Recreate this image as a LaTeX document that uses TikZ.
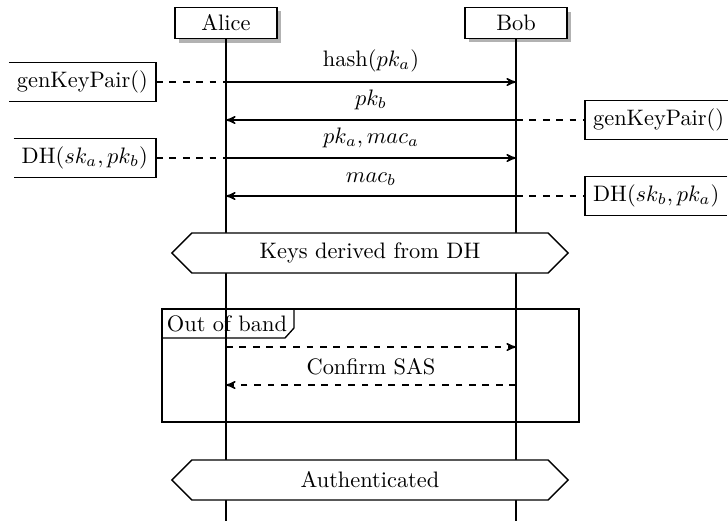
\documentclass[tikz,border=0pt]{standalone}
\usepackage{amsmath,amssymb}
\usepackage{tikz}
\usetikzlibrary{arrows,positioning,shapes.symbols,shadows}

\begin{document}
\begin{tikzpicture}[x=0.0157cm, y=-0.0157cm, >=stealth', semithick]
    \useasboundingbox (0,0) rectangle (728,521);

    % Define lifelines
    \node [rectangle, draw=black, fill=white, minimum width=1.6cm, drop shadow={fill=gray!60, opacity=1, shadow xshift=1.8pt, shadow yshift=-1.8pt}] (alice) at (226,23) {Alice};
    \node [rectangle, draw=black, fill=white, minimum width=1.6cm, drop shadow={fill=gray!60, opacity=1, shadow xshift=1.8pt, shadow yshift=-1.8pt}] (bob) at (516,23) {Bob};
    \coordinate (alice end) at (226,521);
    \coordinate (bob end) at (516,521);
    \draw[thick] (alice.south) -- (alice end);
    \draw[thick] (bob.south) -- (bob end);

    % Define points on the lifelines
    \coordinate (a1) at (226,82);  \coordinate (b1) at (516,82);
    \coordinate (a2) at (226,120); \coordinate (b2) at (516,120);
    \coordinate (a3) at (226,158); \coordinate (b3) at (516,158);
    \coordinate (a4) at (226,196); \coordinate (b4) at (516,196);
    \coordinate (a5) at (226,347); \coordinate (b5) at (516,347);
    \coordinate (a6) at (226,385); \coordinate (b6) at (516,385);

    % Define local calls
    \node [rectangle, anchor=east] (kpa) at (156,82) {genKeyPair()};
    \node [rectangle, anchor=west] (kpb) at (585,120) {genKeyPair()};
    \node [rectangle, anchor=east] (dha) at (156,158) {DH$(sk_a, pk_b)$};
    \node [rectangle, anchor=west] (dhb) at (585,196) {DH$(sk_b, pk_a)$};
    \draw (kpa.north west) -- (kpa.north east) -- (kpa.south east) -- (kpa.south west);
    \draw (dha.north west) -- (dha.north east) -- (dha.south east) -- (dha.south west);
    \draw (kpb.north east) -- (kpb.north west) -- (kpb.south west) -- (kpb.south east);
    \draw (dhb.north east) -- (dhb.north west) -- (dhb.south west) -- (dhb.south east);
    \draw[dashed] (kpa.east) -- (a1);
    \draw[dashed] (b2) -- (kpb.west);
    \draw[dashed] (dha.east) -- (a3);
    \draw[dashed] (b4) -- (dhb.west);

    % Define messages
    \draw[->] (a1) -- node[above=1pt] {hash$(pk_a)$} (b1);
    \draw[->] (b2) -- node[above=1pt] {$pk_b$} (a2);
    \draw[->] (a3) -- node[above=1pt] {$pk_a, mac_a$} (b3);
    \draw[->] (b4) -- node[above=1pt] {$mac_b$} (a4);

    % Define states
    \node [signal, signal to=west and east, signal pointer angle=90, draw=black, fill=white, minimum width=6.22cm, minimum height=0.63cm] (keys) at (370,253) {Keys derived from DH};
    \node [signal, signal to=west and east, signal pointer angle=90, draw=black, fill=white, minimum width=6.22cm, minimum height=0.63cm] (auth) at (370,480) {Authenticated};

    % Out of band frame
    \draw (162,309) rectangle (579,422);
    \draw (162,338) -- (285,338) -- (294,328) -- (294,309);
    \node (oob) at (227,323.5) {Out of band};
    \draw[->, dashed] (a5) -- (b5);
    \draw[->, dashed] (b6) -- node[above=1pt] {Confirm SAS} (a6);

\end{tikzpicture}
\end{document}
